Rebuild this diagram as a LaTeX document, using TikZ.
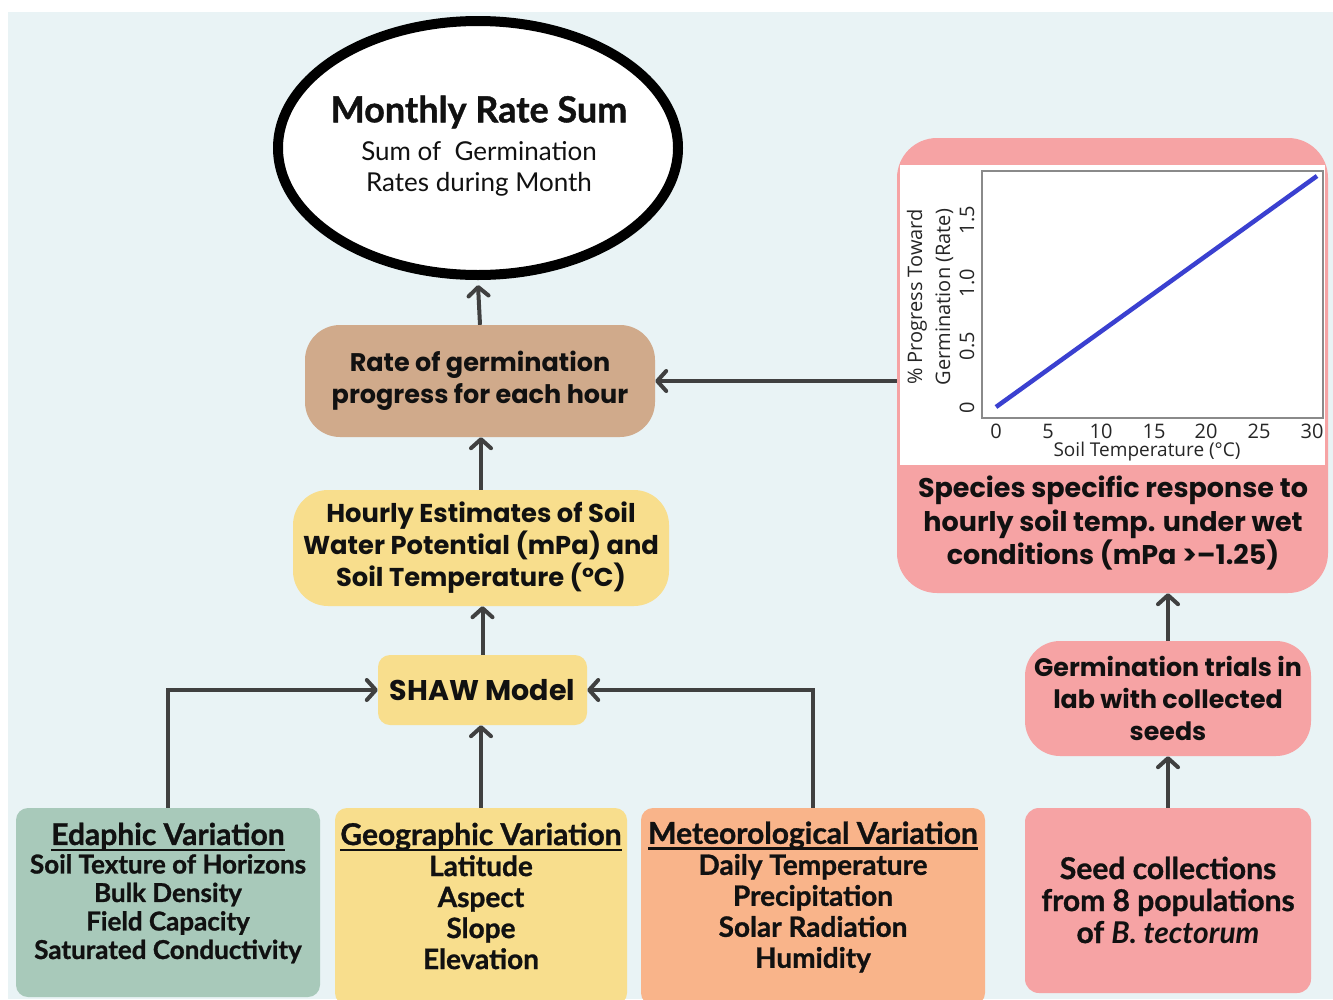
\documentclass[tikz,border=0pt]{standalone}
\usepackage{fontspec}
\setmainfont{Lato}[BoldFeatures={FakeBold=1}]
\newfontfamily\widefont{Poppins}
\newfontfamily\chartfont{Open Sans}
\usetikzlibrary{arrows.meta,calc,shapes.geometric}
\definecolor{bgc}{HTML}{E9F3F5}
\definecolor{tanc}{HTML}{D0AA8B}
\definecolor{yelc}{HTML}{F8DE8D}
\definecolor{sagec}{HTML}{A8C9BA}
\definecolor{orngc}{HTML}{F9B48A}
\definecolor{pinkc}{HTML}{F6A3A4}
\definecolor{arrowc}{HTML}{404040}
\definecolor{bluec}{HTML}{3A40D0}
\definecolor{framec}{HTML}{8A8A8A}
\definecolor{txtc}{HTML}{111111}
\tikzset{
  arr/.style={draw=arrowc, line width=4pt, -{Straight Barb[length=9pt,width=20pt,round]}},
  flowbox/.style={rounded corners=35pt, inner sep=0pt, draw=none, align=center, text=txtc},
  widetxt/.style={font=\fontsize{25.8}{32}\selectfont\widefont\bfseries, align=center, text=txtc},
  condtxt/.style={font=\fontsize{28}{31}\selectfont\bfseries, align=center, text=txtc},
  ticklab/.style={font=\fontsize{20}{20}\selectfont\chartfont, text=black!85},
}
\newcommand{\btitle}[1]{{\fontsize{30}{31}\selectfont\setbox0\hbox{#1}\rlap{\rule[-6pt]{\wd0}{2.4pt}}\box0}}
\begin{document}
\begin{tikzpicture}[x=1pt,y=-1pt]
\useasboundingbox (0,0) rectangle (1333,999);
\clip (0,0) rectangle (1333,999);
\fill[bgc] (8,12) rectangle (1333,999);

% ellipse
\node[ellipse, draw=black, line width=10pt, fill=white, minimum width=400pt, minimum height=254pt, inner sep=0pt] (ell) at (478,148) {};
\node[font=\fontsize{36}{40}\selectfont\bfseries, text=txtc] (ellT1) at (479,112) {Monthly Rate Sum};
\node[font=\fontsize{26}{30}\selectfont, text=txtc] (ellT2) at (479,151) {Sum of\ \ Germination};
\node[font=\fontsize{26}{30}\selectfont, text=txtc] (ellT3) at (479,184) {Rates during Month};

% middle column
\node[flowbox, fill=tanc, minimum width=350pt, minimum height=112pt] (rate) at (480,381) {};
\node[widetxt, font=\fontsize{25.5}{32}\selectfont\widefont\bfseries] (rateT) at (rate.center) {Rate of germination\\progress for each hour};

\node[flowbox, fill=yelc, minimum width=376pt, minimum height=116pt] (hourly) at (481,548) {};
\node[widetxt] (hourlyT) at (hourly.center) {Hourly Estimates of Soil\\Water Potential (mPa) and\\Soil Temperature (°C)};

\node[flowbox, rounded corners=12pt, fill=yelc, minimum width=209pt, minimum height=70pt] (shaw) at (482.5,690) {};
\node[widetxt, font=\fontsize{28.5}{32}\selectfont\widefont\bfseries] (shawT) at (shaw.center) {SHAW Model};

% bottom boxes
\node[flowbox, rounded corners=12pt, fill=sagec, minimum width=304pt, minimum height=189pt] (edaphic) at (168,902.5) {};
\node[condtxt, font=\fontsize{26}{28.5}\selectfont\bfseries] (edaphicT) at (168,893) {\btitle{Edaphic Variation}\\Soil Texture of Horizons\\Bulk Density\\Field Capacity\\Saturated Conductivity};

\node[flowbox, rounded corners=12pt, fill=yelc, minimum width=292pt, minimum height=197pt] (geo) at (481,906.5) {};
\node[condtxt] (geoT) at (481,896) {\btitle{Geographic Variation}\\Latitude\\Aspect\\Slope\\Elevation};

\node[flowbox, rounded corners=12pt, fill=orngc, minimum width=344pt, minimum height=197pt] (met) at (813,906.5) {};
\node[condtxt] (metT) at (813,897) {\btitle{Meteorological Variation}\\Daily Temperature\\Precipitation\\Solar Radiation\\Humidity};

\node[flowbox, rounded corners=14pt, fill=pinkc, minimum width=286pt, minimum height=185pt] (seed) at (1168,900.5) {};
\node[condtxt, font=\fontsize{30}{32}\selectfont\bfseries] (seedT) at (1168,900) {Seed collections\\from 8 populations\\of \textit{B. tectorum}};

\node[flowbox, fill=pinkc, minimum width=286pt, minimum height=115pt] (trials) at (1168,698.5) {};
\node[widetxt, font=\fontsize{25.3}{32}\selectfont\widefont\bfseries] (trialsT) at (trials.center) {Germination trials in\\lab with collected\\seeds};

% species box with chart
\node[flowbox, rounded corners=40pt, fill=pinkc, minimum width=431pt, minimum height=455pt] (species) at (1112.5,365.5) {};
\fill[white] (900,165) rectangle (1325,465);
\node[widetxt, font=\fontsize{27}{33.5}\selectfont\widefont\bfseries] (speciesT) at (1113,523) {Species specific response to\\hourly soil temp. under wet\\conditions (mPa >–1.25)};

\draw[framec, line width=1.2pt] (982,171) rectangle (1323,418);
\draw[bluec, line width=4.5pt] (996,407) -- (1317,176);
\foreach \t/\xx in {0/996,5/1048,10/1101,15/1154,20/1206,25/1259,30/1312}
  \node[ticklab] (xt\t) at (\xx,431) {\t};
\foreach \v/\yy in {0/408,0.5/346,1.0/283,1.5/220}
  \node[ticklab, rotate=90] (yt\yy) at (967,\yy) {\v};
\node[font=\fontsize{19}{19}\selectfont\chartfont, text=black!85] (xlab) at (1147,452) {Soil Temperature (°C)};
\node[font=\fontsize{20}{28}\selectfont\chartfont, text=black!85, rotate=90, align=center] (ylab) at (930,297) {\% Progress Toward\\Germination (Rate)};

% connectors
\draw[arr] (rate.north) -- ($(ell.south)+(0,5)$);
\draw[arr] (hourly.north) -- (hourly.north |- rate.south);
\draw[arr] (shaw.north) -- (shaw.north |- hourly.south);
\draw[arr] (geo.north) -- (geo.north |- shaw.south);
\draw[arr] (edaphic.north) |- (shaw.west);
\draw[arr] (met.north) |- (shaw.east);
\draw[arr] (species.west |- rate.east) -- (rate.east);
\draw[arr] (trials.north) -- (trials.north |- species.south);
\draw[arr] (seed.north) -- (trials.south);
\end{tikzpicture}
\end{document}
